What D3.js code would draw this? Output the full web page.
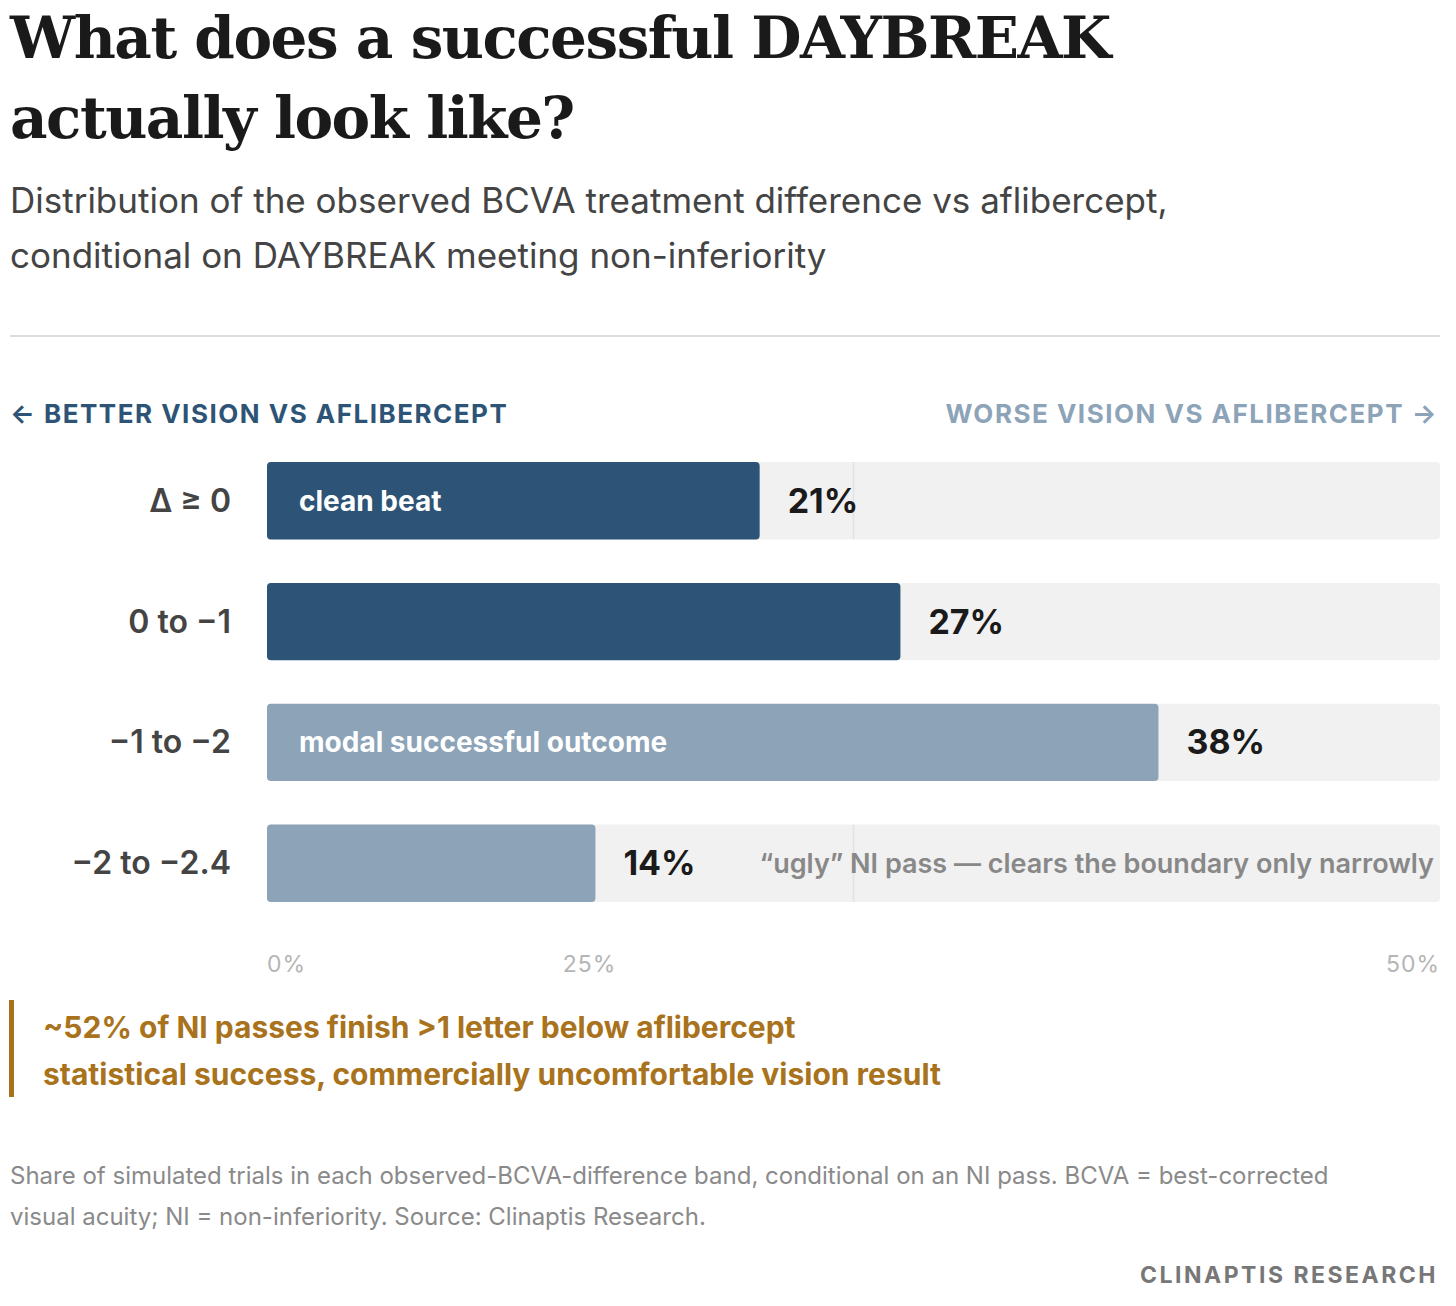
<!DOCTYPE html>
<html><head><meta charset="utf-8">
<script src="https://cdn.jsdelivr.net/npm/d3@7"></script>
<style>
body{margin:0;background:#fff;}
svg text{font-family:Inter,"Noto Sans",sans-serif;}
</style></head>
<body><svg id="chart"></svg>
<script>
const width = 1456, height = 1306;
const left = 267, right = 1440;

const bands = ['Δ ≥ 0', '0 to −1', '−1 to −2', '−2 to −2.4'];
const shares = [21, 27, 38, 14];
const tones = ['dark', 'dark', 'light', 'light'];
const inLabels = ['clean beat', '', 'modal successful outcome', ''];
const afterNotes = ['', '', '', '“ugly” NI pass — clears the boundary only narrowly'];
const tickLabels = ['0%', '25%', '50%'];
const tickAt = [0, 13.75, 50];

const colors = { dark: '#2d5476', light: '#8ca3b8' };

const svg = d3.select('#chart').attr('width', width).attr('height', height);

svg.append('text').attr('x', 10).attr('y', 58)
  .style('font-family', '"DejaVu Serif", Georgia, serif').style('font-weight', 700)
  .style('font-size', '58px').attr('fill', '#1a1a1a').attr('letter-spacing', -1.5)
  .text('What does a successful DAYBREAK');
svg.append('text').attr('x', 10).attr('y', 138)
  .style('font-family', '"DejaVu Serif", Georgia, serif').style('font-weight', 700)
  .style('font-size', '58px').attr('fill', '#1a1a1a').attr('letter-spacing', -1.5)
  .text('actually look like?');
svg.append('text').attr('x', 10).attr('y', 213).style('font-size', '35px').attr('fill', '#444')
  .text('Distribution of the observed BCVA treatment difference vs aflibercept,');
svg.append('text').attr('x', 10).attr('y', 268).style('font-size', '35px').attr('fill', '#444')
  .text('conditional on DAYBREAK meeting non-inferiority');
svg.append('line').attr('x1', 10).attr('x2', 1440).attr('y1', 336).attr('y2', 336)
  .attr('stroke', '#ddd').attr('stroke-width', 2);

svg.append('text').attr('x', 10).attr('y', 423).style('font-size', '26px').style('font-weight', 700)
  .attr('letter-spacing', 1.5).attr('fill', colors.dark).text('← BETTER VISION VS AFLIBERCEPT');
svg.append('text').attr('x', 1438).attr('y', 423).attr('text-anchor', 'end').style('font-size', '26px')
  .style('font-weight', 700).attr('letter-spacing', 1.5).attr('fill', colors.light)
  .text('WORSE VISION VS AFLIBERCEPT →');

const x = d3.scaleLinear().domain([0, 50]).range([left, right]);
const y = d3.scaleBand().domain(bands).range([450, 914]).paddingInner(0.36).paddingOuter(0.1);

const rows = svg.selectAll('g.row').data(bands).join('g').attr('class', 'row')
  .attr('transform', d => `translate(0,${y(d)})`);
rows.append('rect').attr('x', x(0)).attr('width', x(50) - x(0)).attr('height', y.bandwidth())
  .attr('rx', 4).attr('fill', '#f1f1f1');
rows.append('line').attr('x1', x(25)).attr('x2', x(25)).attr('y1', 0).attr('y2', y.bandwidth())
  .attr('stroke', '#e2e2e2').attr('stroke-width', 1.5);
rows.append('rect').attr('x', x(0)).attr('height', y.bandwidth()).attr('rx', 4)
  .attr('width', (d, i) => x(shares[i]) - x(0)).attr('fill', (d, i) => colors[tones[i]]);
rows.append('text').attr('x', 231).attr('y', y.bandwidth() / 2 + 11).attr('text-anchor', 'end')
  .style('font-size', '32px').style('font-weight', 600).attr('fill', '#444').text(d => d);
rows.append('text').attr('x', x(0) + 32).attr('y', y.bandwidth() / 2 + 10)
  .style('font-size', '28px').style('font-weight', 700).attr('fill', '#fff')
  .text((d, i) => inLabels[i]);
rows.append('text').attr('x', (d, i) => x(shares[i]) + 28).attr('y', y.bandwidth() / 2 + 12)
  .style('font-size', '34px').style('font-weight', 700).attr('fill', '#1a1a1a')
  .text((d, i) => shares[i] + '%');
rows.append('text').attr('x', 1434).attr('y', y.bandwidth() / 2 + 10).attr('text-anchor', 'end')
  .style('font-size', '27px').style('font-weight', 600).attr('fill', '#888')
  .text((d, i) => afterNotes[i]);

svg.selectAll('text.tick').data(tickLabels).join('text').attr('class', 'tick')
  .attr('x', (d, i) => x(tickAt[i])).attr('y', 972)
  .attr('text-anchor', (d, i) => i === 0 ? 'start' : i === 2 ? 'end' : 'middle')
  .style('font-size', '23px').attr('fill', '#b5b5b5').attr('letter-spacing', 1).text(d => d);

svg.append('rect').attr('x', 9).attr('y', 1000).attr('width', 5).attr('height', 97).attr('fill', '#a8731c');
svg.append('text').attr('x', 43).attr('y', 1038).style('font-size', '30px').style('font-weight', 700)
  .attr('fill', '#a8731c').text('~52% of NI passes finish >1 letter below aflibercept');
svg.append('text').attr('x', 43).attr('y', 1085).style('font-size', '30px').style('font-weight', 700)
  .attr('fill', '#a8731c').text('statistical success, commercially uncomfortable vision result');

svg.append('text').attr('x', 10).attr('y', 1184).style('font-size', '24px').attr('fill', '#8a8a8a')
  .text('Share of simulated trials in each observed-BCVA-difference band, conditional on an NI pass. BCVA = best-corrected');
svg.append('text').attr('x', 10).attr('y', 1225).style('font-size', '24px').attr('fill', '#8a8a8a')
  .text('visual acuity; NI = non-inferiority. Source: Clinaptis Research.');
svg.append('text').attr('x', 1438).attr('y', 1283).attr('text-anchor', 'end').style('font-size', '23px')
  .style('font-weight', 700).attr('letter-spacing', 2.5).attr('fill', '#777').text('CLINAPTIS RESEARCH');
</script></body></html>
